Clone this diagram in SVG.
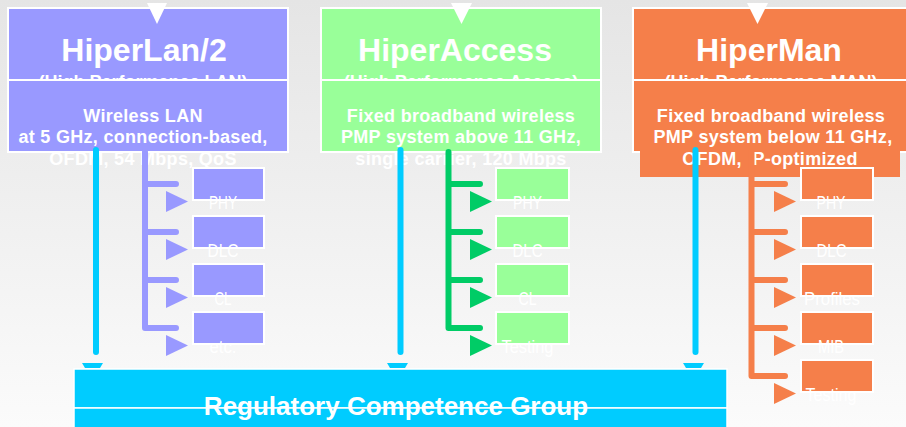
<svg xmlns="http://www.w3.org/2000/svg" width="906" height="427" viewBox="0 0 906 427">
<defs>
<linearGradient id="bg" x1="0" y1="0" x2="0" y2="1">
<stop offset="0" stop-color="#e5e5e5"/>
<stop offset="1" stop-color="#fbfbfb"/>
</linearGradient>
<style>
.box{stroke:#fff;stroke-width:2}
.t{fill:#fff;font-family:"Liberation Sans",Arial,sans-serif;font-weight:bold;text-anchor:middle}
.title{font-size:32px}
.sub{font-size:18px}
.body{font-size:18px;letter-spacing:0.3px}
.lbl{fill:#fff;font-family:"Liberation Sans",Arial,sans-serif;font-size:18px;text-anchor:middle}
.pur{fill:#9999ff}
.grn{fill:#99ff99}
.org{fill:#f57f4a}
.cy{stroke:#00ccff;stroke-width:6;stroke-linecap:round;fill:none}
.br{stroke-width:6;stroke-linecap:round;stroke-linejoin:round;fill:none}
.sb{stroke:#fff;stroke-width:2}
</style>
</defs>
<rect width="906" height="427" fill="url(#bg)"/>

<g id="hiperlan">
<rect class="box pur" x="8" y="8" width="280" height="72"/>
<polygon points="147,3 167,3 157,24" fill="#fff"/>
<text class="t title" x="144" y="61">HiperLan/2</text>
<text class="t sub" x="143" y="88">(High Performance LAN)</text>
<rect class="box pur" x="8" y="80" width="280" height="72"/>
<text class="t body" x="143" y="121.5">Wireless LAN</text>
<text class="t body" x="143" y="143">at 5 GHz, connection-based,</text>
<text class="t body" x="143" y="164.5">OFDM, 54 Mbps, QoS</text>
</g>

<g id="hiperaccess">
<rect class="box grn" x="321" y="8" width="280" height="72"/>
<polygon points="451,3 472,3 461.5,24" fill="#fff"/>
<text class="t title" x="455" y="61">HiperAccess</text>
<text class="t sub" x="461" y="88">(High Performance Access)</text>
<rect class="box grn" x="321" y="80" width="280" height="72"/>
<text class="t body" x="461" y="121.5">Fixed broadband wireless</text>
<text class="t body" x="461" y="143">PMP system above 11 GHz,</text>
<text class="t body" x="461" y="164.5">single carrier, 120 Mbps</text>
</g>

<g id="hiperman">
<rect class="box org" x="633" y="8" width="290" height="72"/>
<polygon points="747,3 768,3 757.5,24" fill="#fff"/>
<text class="t title" x="769" y="61">HiperMan</text>
<text class="t sub" x="771" y="88">(High Performance MAN)</text>
<rect class="box org" x="633" y="80" width="290" height="72"/>
<rect class="org" x="640" y="151" width="260" height="26"/>
<text class="t body" x="771" y="121.5">Fixed broadband wireless</text>
<text class="t body" x="773" y="143">PMP system below 11 GHz,</text>
<text class="t body" x="770" y="164.5" xml:space="preserve">OFDM,  P-optimized</text>
</g>

<g id="connectors">
<line class="cy" x1="96" y1="150" x2="96" y2="352"/>
<line class="cy" x1="400.5" y1="150" x2="400.5" y2="352"/>
<line class="cy" x1="695.5" y1="150" x2="695.5" y2="352"/>
<g fill="#00ccff">
<polygon points="82,363 103,363 100,368 85,368"/>
<polygon points="387,363 408,363 405,368 390,368"/>
<polygon points="683,363 704,363 701,368 686,368"/>
</g>
<path class="br" stroke="#9999ff" d="M145,152 V328 H176 M145,184 H176 M145,232 H176 M145,280 H176"/>
<path class="br" stroke="#00cc66" d="M448.5,152 V328 H480 M448.5,184 H480 M448.5,232 H480 M448.5,280 H480"/>
<path class="br" stroke="#f57f4a" d="M751.5,152 V376 H785 M751.5,184 H785 M751.5,232 H785 M751.5,280 H785 M751.5,328 H785"/>
</g>

<g id="hiperlan-parts">
<g class="pur">
<polygon points="166,191 166,212 188,201.5"/>
<polygon points="166,239 166,260 188,249.5"/>
<polygon points="166,287 166,308 188,297.5"/>
<polygon points="166,335 166,356 188,345.5"/>
</g>
<g id="hl-phy"><rect class="sb pur" x="193" y="168" width="71" height="32"/><text class="lbl" x="223" y="209" textLength="28" lengthAdjust="spacingAndGlyphs">PHY</text></g>
<g id="hl-dlc"><rect class="sb pur" x="193" y="216" width="71" height="32"/><text class="lbl" x="223" y="257" textLength="31" lengthAdjust="spacingAndGlyphs">DLC</text></g>
<g id="hl-cl"><rect class="sb pur" x="193" y="264" width="71" height="32"/><text class="lbl" x="223" y="305" textLength="17" lengthAdjust="spacingAndGlyphs">CL</text></g>
<g id="hl-etc"><rect class="sb pur" x="193" y="312" width="71" height="32"/><text class="lbl" x="223" y="353" textLength="27" lengthAdjust="spacingAndGlyphs">etc.</text></g>
</g>

<g id="hiperaccess-parts">
<g fill="#00cc66">
<polygon points="470,191 470,212 492,201.5"/>
<polygon points="470,239 470,260 492,249.5"/>
<polygon points="470,287 470,308 492,297.5"/>
<polygon points="470,335 470,356 492,345.5"/>
</g>
<g id="ha-phy"><rect class="sb grn" x="496" y="168" width="73" height="32"/><text class="lbl" x="527.5" y="209" textLength="29" lengthAdjust="spacingAndGlyphs">PHY</text></g>
<g id="ha-dlc"><rect class="sb grn" x="496" y="216" width="73" height="32"/><text class="lbl" x="527.5" y="257" textLength="30" lengthAdjust="spacingAndGlyphs">DLC</text></g>
<g id="ha-cl"><rect class="sb grn" x="496" y="264" width="73" height="32"/><text class="lbl" x="527.5" y="305" textLength="18" lengthAdjust="spacingAndGlyphs">CL</text></g>
<g id="ha-testing"><rect class="sb grn" x="496" y="312" width="73" height="32"/><text class="lbl" x="527.5" y="353" textLength="52" lengthAdjust="spacingAndGlyphs">Testing</text></g>
</g>

<g id="hiperman-parts">
<g class="org">
<polygon points="774,191 774,212 796,201.5"/>
<polygon points="774,239 774,260 796,249.5"/>
<polygon points="774,287 774,308 796,297.5"/>
<polygon points="774,335 774,356 796,345.5"/>
<polygon points="774,383 774,404 796,393.5"/>
</g>
<g id="hm-phy"><rect class="sb org" x="801" y="168" width="72" height="32"/><text class="lbl" x="831" y="209" textLength="29" lengthAdjust="spacingAndGlyphs">PHY</text></g>
<g id="hm-dlc"><rect class="sb org" x="801" y="216" width="72" height="32"/><text class="lbl" x="831.5" y="257" textLength="30" lengthAdjust="spacingAndGlyphs">DLC</text></g>
<g id="hm-profiles"><rect class="sb org" x="801" y="264" width="72" height="32"/><text class="lbl" x="832" y="305" textLength="56" lengthAdjust="spacingAndGlyphs">Profiles</text></g>
<g id="hm-mib"><rect class="sb org" x="801" y="312" width="72" height="32"/><text class="lbl" x="831" y="353" textLength="26" lengthAdjust="spacingAndGlyphs">MIB</text></g>
<g id="hm-testing"><rect class="sb org" x="801" y="360" width="72" height="32"/><text class="lbl" x="831" y="401" textLength="51" lengthAdjust="spacingAndGlyphs">Testing</text></g>
</g>

<g id="rcg">
<rect x="74" y="369" width="653" height="39" fill="#00ccff" stroke="#fff" stroke-width="1.5"/>
<rect x="74" y="408" width="653" height="30" fill="#00ccff" stroke="#fff" stroke-width="1.5"/>
<text class="t" x="396" y="415" font-size="26">Regulatory Competence Group</text>
</g>
</svg>
